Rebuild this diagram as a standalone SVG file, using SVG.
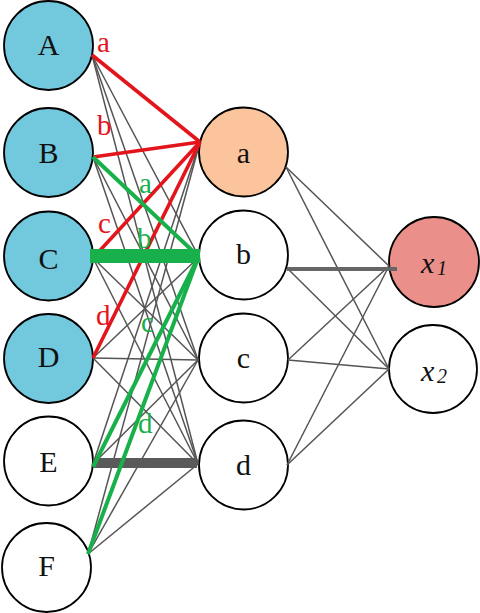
<svg xmlns="http://www.w3.org/2000/svg" width="480" height="613" viewBox="0 0 480 613">
<style>
.node{stroke:#000;stroke-width:1.8}
.in{fill:#72c8dd}
.wh{fill:#fff}
.lt{font-family:"Liberation Serif","Times New Roman",serif;font-size:30px;fill:#111;text-anchor:middle}
.xt{font-family:"Liberation Serif","Times New Roman",serif;font-style:italic;fill:#111}
.g{stroke:#555;stroke-width:1.5;fill:none}
.red{stroke:#e3141b;stroke-width:3.6;fill:none}
.grn{stroke:#17b04b;stroke-width:4;fill:none}
.lr{font-family:"Liberation Serif","Times New Roman",serif;font-size:29px;fill:#e3141b}
.lg{font-family:"Liberation Serif","Times New Roman",serif;font-size:29px;fill:#17b04b}
</style>
<rect width="480" height="613" fill="#fff"/>
<g id="nodes">
<g id="node-A"><circle class="node in" cx="48.5" cy="45.5" r="44.5"/><text class="lt" x="48.5" y="55">A</text></g>
<g id="node-B"><circle class="node in" cx="48.5" cy="152.5" r="44.5"/><text class="lt" x="48.5" y="163">B</text></g>
<g id="node-C"><circle class="node in" cx="48.5" cy="256" r="44.5"/><text class="lt" x="48.5" y="269">C</text></g>
<g id="node-D"><circle class="node in" cx="48.5" cy="358.5" r="44.5"/><text class="lt" x="48.5" y="367">D</text></g>
<g id="node-E"><circle class="node wh" cx="48.5" cy="461" r="44.5"/><text class="lt" x="48.5" y="472">E</text></g>
<g id="node-F"><circle class="node wh" cx="46.5" cy="567.5" r="44.5"/><text class="lt" x="46.5" y="576">F</text></g>
<g id="node-a"><circle class="node" fill="#fcc49c" cx="243.5" cy="152" r="44.5"/><text class="lt" x="243.5" y="163">a</text></g>
<g id="node-b"><circle class="node wh" cx="243.5" cy="255" r="44.5"/><text class="lt" x="243.5" y="264">b</text></g>
<g id="node-c"><circle class="node wh" cx="243.5" cy="358" r="44.5"/><text class="lt" x="243.5" y="368">c</text></g>
<g id="node-d"><circle class="node wh" cx="243.5" cy="465" r="44.5"/><text class="lt" x="243.5" y="475">d</text></g>
<g id="node-x1"><circle class="node" fill="#ea8f8a" cx="434" cy="262" r="45"/><text class="xt" x="421" y="273" font-size="30">x<tspan x="437" y="275" font-size="20">1</tspan></text></g>
<g id="node-x2"><circle class="node wh" cx="433" cy="369" r="44"/><text class="xt" x="421" y="381" font-size="30">x<tspan x="437" y="383" font-size="20">2</tspan></text></g>
</g>
<g id="connectors">
<line class="g" x1="92" y1="55" x2="199" y2="257"/>
<line class="g" x1="92" y1="55" x2="198" y2="360"/>
<line class="g" x1="92" y1="55" x2="198" y2="464"/>
<line class="g" x1="93" y1="157" x2="198" y2="360"/>
<line class="g" x1="93" y1="157" x2="198" y2="464"/>
<line class="g" x1="93" y1="258" x2="198" y2="360"/>
<line class="g" x1="93" y1="258" x2="198" y2="464"/>
<line class="g" x1="93" y1="358" x2="199" y2="257"/>
<line class="g" x1="93" y1="358" x2="198" y2="360"/>
<line class="g" x1="93" y1="358" x2="198" y2="464"/>
<line class="g" x1="93" y1="464" x2="200" y2="142"/>
<line class="g" x1="93" y1="464" x2="198" y2="360"/>
<line class="g" x1="88" y1="554" x2="200" y2="142"/>
<line class="g" x1="88" y1="554" x2="198" y2="360"/>
<line class="g" x1="88" y1="554" x2="198" y2="464"/>
<line class="g" x1="286" y1="167" x2="389" y2="266"/>
<line class="g" x1="286" y1="167" x2="389" y2="369"/>
<line class="g" x1="287" y1="268" x2="389" y2="369"/>
<line class="g" x1="288" y1="360" x2="389" y2="266"/>
<line class="g" x1="288" y1="360" x2="389" y2="369"/>
<line class="g" x1="287" y1="465" x2="389" y2="266"/>
<line class="g" x1="287" y1="465" x2="389" y2="369"/>
<line x1="287" y1="269" x2="397" y2="269" stroke="#666" stroke-width="4"/>
<line x1="93" y1="463" x2="197" y2="463" stroke="#5a5a5a" stroke-width="10"/>
<line class="red" x1="92" y1="55" x2="200" y2="142"/>
<line class="red" x1="93" y1="157" x2="200" y2="142"/>
<line class="red" x1="93" y1="258" x2="200" y2="142"/>
<line class="red" x1="93" y1="358" x2="200" y2="142"/>
<line class="grn" x1="93" y1="157" x2="199" y2="257"/>
<line class="grn" x1="93" y1="467" x2="198" y2="258"/>
<line class="grn" x1="88" y1="554" x2="198" y2="258"/>
<line x1="90" y1="256" x2="200" y2="256" stroke="#17b04b" stroke-width="14"/>
</g>
<g id="labels">
<text class="lr" x="97" y="52">a</text>
<text class="lr" x="97" y="135">b</text>
<text class="lr" x="98" y="233">c</text>
<text class="lr" x="96" y="325">d</text>
<text class="lg" x="139" y="193">a</text>
<text class="lg" x="137" y="248">b</text>
<text class="lg" x="141" y="332">c</text>
<text class="lg" x="138" y="433">d</text>
</g>
</svg>
